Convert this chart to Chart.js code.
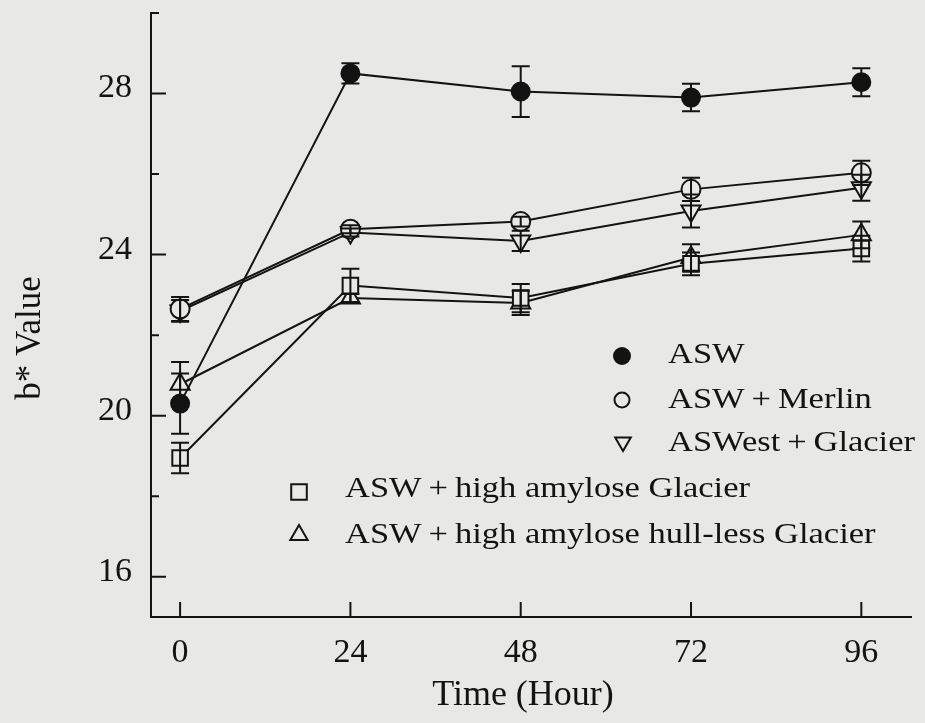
<!DOCTYPE html>
<html><head><meta charset="utf-8">
<script src="https://cdn.jsdelivr.net/npm/chart.js@4.4.1/dist/chart.umd.min.js"></script>
<style>html,body{margin:0;padding:0;background:#e8e8e6;} #wrap{width:925px;height:723px;position:relative;}</style>
</head><body><div id="wrap"><canvas id="c"></canvas></div>
<script>
// ---- data ----
const hours = [0, 24, 48, 72, 96];
const seriesLabels = ['ASW', 'ASW+Merlin', 'ASWest+Glacier', 'ASW+high amylose Glacier', 'ASW+high amylose hull-less Glacier'];
const aswValues      = [20.3, 28.5, 28.05, 27.9, 28.28];
const aswErrors      = [0.75, 0.25, 0.63, 0.34, 0.35];
const merlinValues   = [22.65, 24.63, 24.82, 25.62, 26.03];
const merlinErrors   = [0.3, 0.1, 0.12, 0.29, 0.3];
const westValues     = [22.6, 24.55, 24.34, 25.08, 25.66];
const westErrors     = [0.27, 0.1, 0.25, 0.41, 0.32];
const haGlacValues   = [18.95, 23.23, 22.92, 23.77, 24.15];
const haGlacErrors   = [0.38, 0.42, 0.35, 0.28, 0.32];
const hullValues     = [20.78, 22.92, 22.8, 23.93, 24.49];
const hullErrors     = [0.55, 0.1, 0.3, 0.33, 0.33];
const xTickValues = [0, 24, 48, 72, 96];
const yTickValues = [16, 20, 24, 28];
const yMinorTickValues = [18, 22, 26, 30];
const xTitle = 'Time (Hour)';
const yTitle = 'b* Value';

const BG = '#e8e8e6';
const INK = '#131313';
const SERIF = '"Liberation Serif", "Times New Roman", serif';

const toPts = vals => vals.map((v, i) => ({x: hours[i], y: v}));
function ds(label, vals, errs, style, fill, radius, rot) {
  return {
    label, data: toPts(vals), errors: errs,
    borderColor: INK, borderWidth: 2,
    pointStyle: style, pointRadius: radius, pointHoverRadius: radius,
    pointRotation: rot || 0,
    pointBackgroundColor: fill, pointBorderColor: INK, pointBorderWidth: 2,
    fill: false, tension: 0
  };
}
const datasets = [
  ds(seriesLabels[0], aswValues, aswErrors, 'circle', INK, 9),
  ds(seriesLabels[1], merlinValues, merlinErrors, 'circle', BG, 9.5),
  ds(seriesLabels[2], westValues, westErrors, 'triangle', BG, 11, 180),
  ds(seriesLabels[3], haGlacValues, haGlacErrors, 'rect', BG, 11),
  ds(seriesLabels[4], hullValues, hullErrors, 'triangle', BG, 11)
];

const bgPlugin = {
  id: 'bg',
  beforeDraw(chart) {
    const {ctx, width, height} = chart;
    ctx.save(); ctx.fillStyle = BG; ctx.fillRect(0, 0, width, height); ctx.restore();
  }
};

const errorBarPlugin = {
  id: 'errorBars',
  afterDatasetsDraw(chart) {
    const {ctx, scales: {x, y}} = chart;
    ctx.save();
    ctx.strokeStyle = INK; ctx.lineWidth = 2;
    chart.data.datasets.forEach(d => {
      d.data.forEach((p, j) => {
        const e = d.errors[j];
        const px = x.getPixelForValue(p.x);
        const t = y.getPixelForValue(p.y + e), b = y.getPixelForValue(p.y - e);
        ctx.beginPath();
        ctx.moveTo(px, t); ctx.lineTo(px, b);
        ctx.moveTo(px - 9, t); ctx.lineTo(px + 9, t);
        ctx.moveTo(px - 9, b); ctx.lineTo(px + 9, b);
        ctx.stroke();
      });
    });
    ctx.restore();
  }
};

const tickMarkPlugin = {
  id: 'tickMarks',
  afterDraw(chart) {
    const {ctx, scales: {x, y}, chartArea: a} = chart;
    ctx.save(); ctx.strokeStyle = INK; ctx.lineWidth = 2;
    ctx.beginPath();
    yTickValues.forEach(v => { const py = y.getPixelForValue(v); ctx.moveTo(a.left, py); ctx.lineTo(a.left + 15, py); });
    yMinorTickValues.forEach(v => { const py = y.getPixelForValue(v); ctx.moveTo(a.left, py); ctx.lineTo(a.left + 8, py); });
    xTickValues.forEach(v => { const px = x.getPixelForValue(v); ctx.moveTo(px, a.bottom); ctx.lineTo(px, a.bottom - 15); });
    ctx.stroke();
    // axis titles
    ctx.fillStyle = INK;
    ctx.textAlign = 'center'; ctx.textBaseline = 'middle';
    ctx.font = '36px ' + SERIF;
    ctx.fillText(xTitle, 523, 696);
    ctx.font = '35px ' + SERIF;
    ctx.translate(31, 338); ctx.rotate(-Math.PI / 2);
    ctx.fillText(yTitle, 0, 0);
    ctx.restore();
  }
};

const legendPlugin = {
  id: 'customLegend',
  afterDraw(chart) {
    const {ctx} = chart;
    const spots = [
      {mx: 622, my: 356, r: 8, tx: 668, ty: 355},
      {mx: 622, my: 400, r: 7.5, tx: 668, ty: 400},
      {mx: 623, my: 442, r: 9, tx: 668, ty: 443},
      {mx: 299, my: 492, r: 11, tx: 345, ty: 489},
      {mx: 299, my: 535, r: 10, tx: 345, ty: 535}
    ];
    ctx.save();
    chart.data.datasets.forEach((d, i) => {
      const s = spots[i];
      ctx.fillStyle = d.pointBackgroundColor; ctx.strokeStyle = INK; ctx.lineWidth = 2;
      Chart.helpers.drawPoint(ctx, {pointStyle: d.pointStyle, rotation: d.pointRotation, radius: s.r, borderWidth: 2}, s.mx, s.my);
      ctx.save();
      ctx.fillStyle = INK;
      ctx.font = '30px ' + SERIF;
      ctx.textAlign = 'left'; ctx.textBaseline = 'middle';
      ctx.translate(s.tx, s.ty); ctx.scale(1.15, 1);
      ctx.fillText(d.label.replace('+', '\u2009+\u2009'), 0, 0);
      ctx.restore();
    });
    ctx.restore();
  }
};

new Chart(document.getElementById('c'), {
  type: 'line',
  data: {datasets},
  plugins: [bgPlugin, errorBarPlugin, tickMarkPlugin, legendPlugin],
  options: {
    responsive: true, maintainAspectRatio: false, animation: false,
    layout: {padding: {left: 0, right: 14, top: 11, bottom: 0}},
    plugins: {legend: {display: false}, tooltip: {enabled: false}},
    scales: {
      x: {
        type: 'linear', min: -4.1, max: 103,
        afterFit: s => { s.height = 106; s.paddingLeft = 0; s.paddingRight = 0; },
        afterBuildTicks: s => { s.ticks = xTickValues.map(v => ({value: v})); },
        grid: {display: true, drawOnChartArea: false, drawTicks: false},
        border: {display: true, color: INK, width: 2},
        ticks: {color: INK, font: {family: SERIF, size: 34}, padding: 16, maxRotation: 0, autoSkip: false}
      },
      y: {
        type: 'linear', min: 15, max: 30,
        afterFit: s => { s.width = 151; s.paddingTop = 0; s.paddingBottom = 0; },
        afterBuildTicks: s => { s.ticks = yTickValues.map(v => ({value: v})); },
        grid: {display: true, drawOnChartArea: false, drawTicks: false},
        border: {display: true, color: INK, width: 2},
        ticks: {color: INK, font: {family: SERIF, size: 34}, padding: 19, labelOffset: -5, autoSkip: false}
      }
    }
  }
});
</script></body></html>
